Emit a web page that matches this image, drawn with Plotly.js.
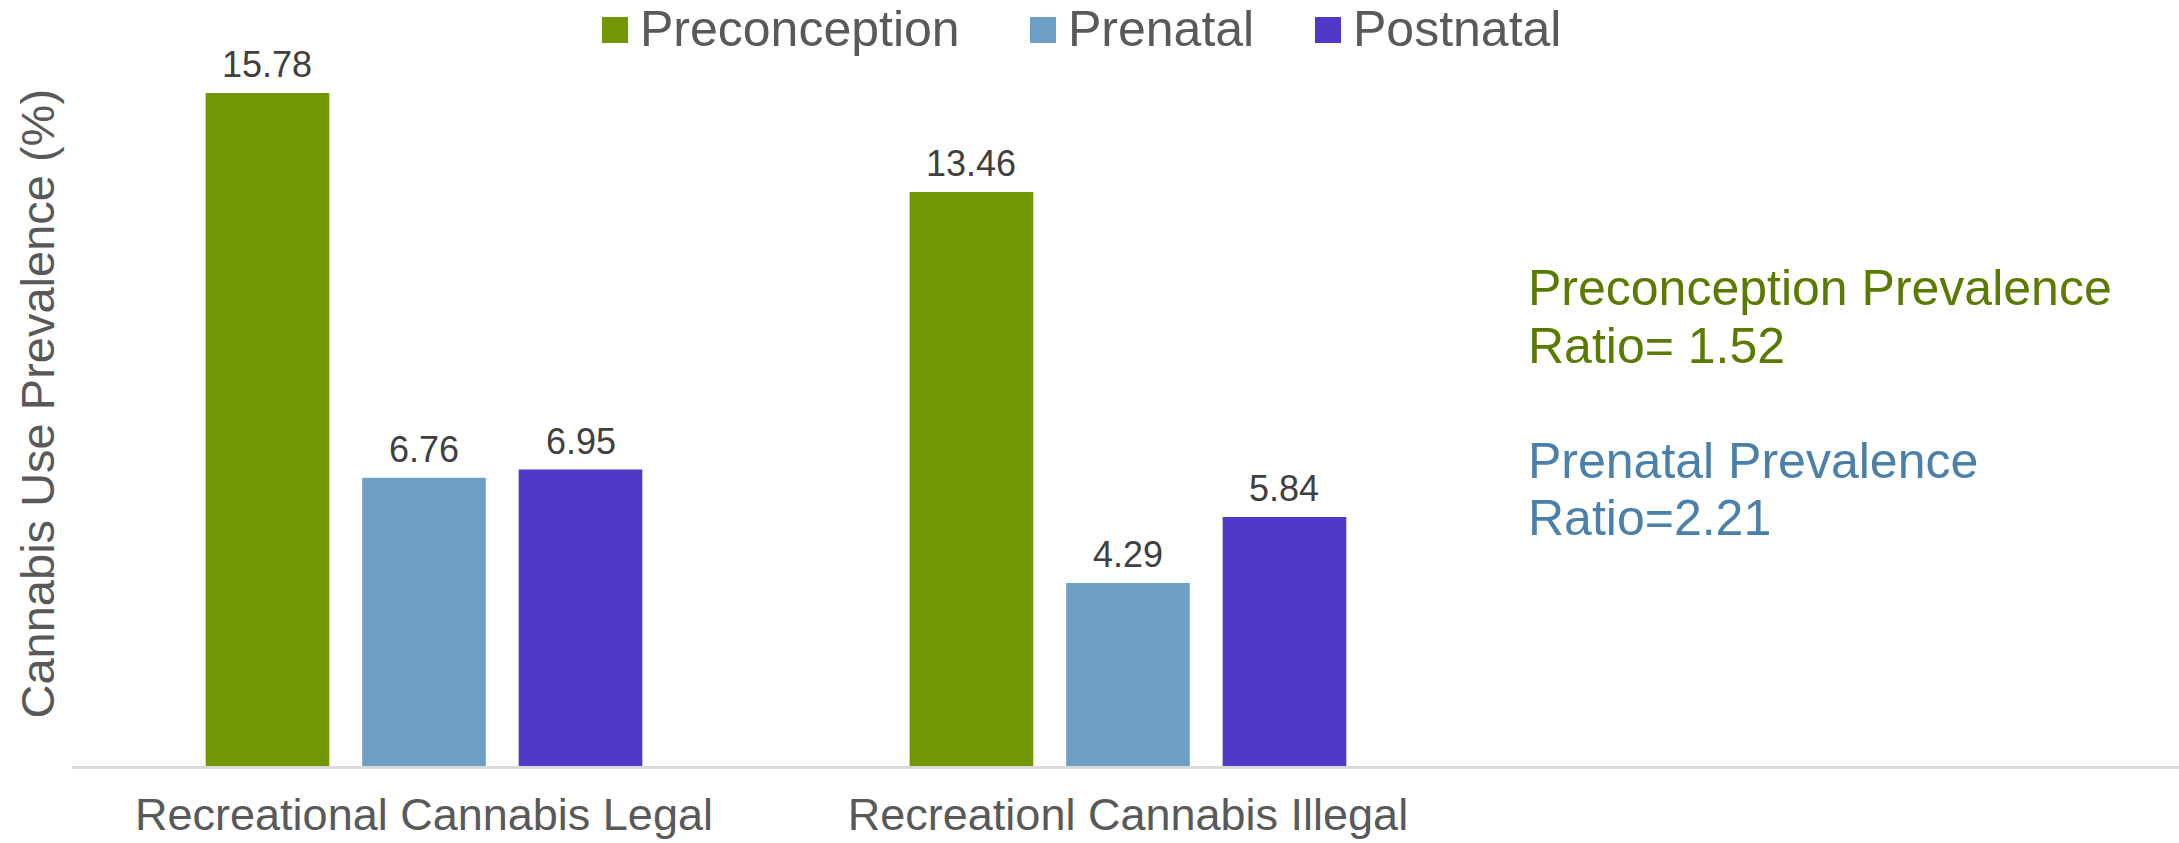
<!DOCTYPE html>
<html><head><meta charset="utf-8">
<script src="https://cdn.plot.ly/plotly-3.0.1.min.js"></script>
<style>html,body{margin:0;padding:0;background:#fff;overflow:hidden}#chart{width:2179px;height:843px}</style>
</head><body><div id="chart"></div>
<script>
// ---- data ----
const categories = ["Recreational Cannabis Legal", "Recreationl Cannabis Illegal"];
const seriesNames = ["Preconception", "Prenatal", "Postnatal"];
const preconception = [15.78, 13.46];
const prenatal = [6.76, 4.29];
const postnatal = [6.95, 5.84];
const seriesColors = ["#739703", "#6e9fc4", "#5039c8"];
const yTitle = "Cannabis Use Prevalence (%)";
const ratioLines = ["Preconception Prevalence", "Ratio= 1.52", "Prenatal Prevalence", "Ratio=2.21"];
const ratioColors = ["#5b7a00", "#5b7a00", "#4a80aa", "#4a80aa"];

// ---- layout geometry (pixels) ----
const W = 2179, H = 843;
const M = {l: 72, r: 0, t: 41, b: 77};
const PW = W - M.l - M.r, PH = H - M.t - M.b;
const px = x => (x - M.l) / PW;
const py = y => (H - M.b - y) / PH;

const FONT = "Liberation Sans, Arial, sans-serif";
const GREY = "#595959";
const BARGAP = 0.333, GROUPGAP = 0.21;

const values = [preconception, prenatal, postnatal];
const traces = seriesNames.map((n, i) => ({
  type: "bar", name: n, x: categories, y: values[i],
  marker: {color: seriesColors[i]},
  showlegend: false, hoverinfo: "x+y+name"
}));

const annotations = [];
const shapes = [];
// data labels, placed through the axes
const slot = (1 - BARGAP) / seriesNames.length;
values.forEach((vals, s) => {
  vals.forEach((v, c) => {
    annotations.push({xref: "x", yref: "y", x: c + (s - (seriesNames.length - 1) / 2) * slot, y: v,
      xanchor: "center", yanchor: "bottom", yshift: 6, showarrow: false, text: v.toFixed(2),
      font: {family: FONT, size: 36, color: "#404040"}});
  });
});
// custom legend (large square swatches)
const legSquareX = [602, 1030, 1315];
seriesNames.forEach((n, i) => {
  shapes.push({type: "rect", xref: "paper", yref: "paper",
    x0: px(legSquareX[i]), x1: px(legSquareX[i] + 26), y0: py(43), y1: py(17),
    fillcolor: seriesColors[i], line: {width: 0}});
  annotations.push({xref: "paper", yref: "paper", x: px(legSquareX[i] + 36), y: py(29),
    xanchor: "left", yanchor: "middle", showarrow: false, text: n,
    font: {family: FONT, size: 50, color: GREY}});
});
// ratio text
const ratioBaselines = [306, 364, 479, 536];
ratioLines.forEach((t, i) => {
  annotations.push({xref: "paper", yref: "paper", x: px(1526), y: py(ratioBaselines[i] - 18),
    xanchor: "left", yanchor: "middle", showarrow: false, text: t,
    font: {family: FONT, size: 50, color: ratioColors[i]}});
});
// y axis title
annotations.push({xref: "paper", yref: "paper", x: px(37), y: 0.5, textangle: -90,
  xanchor: "center", yanchor: "middle", showarrow: false, text: yTitle,
  font: {family: FONT, size: 47, color: GREY}});

const layout = {
  width: W, height: H, margin: M,
  paper_bgcolor: "#fff", plot_bgcolor: "#fff",
  barmode: "group", bargap: BARGAP, bargroupgap: GROUPGAP,
  showlegend: false,
  xaxis: {type: "category", range: [-0.5, 2.493], showline: true, linecolor: "#d9d9d9", linewidth: 3,
    showgrid: false, zeroline: false, ticks: "", ticklabelstandoff: 7,
    tickfont: {family: FONT, size: 45, color: GREY}},
  yaxis: {range: [0, 17], showgrid: false, zeroline: false, showline: false, showticklabels: false, ticks: ""},
  annotations, shapes
};
Plotly.newPlot("chart", traces, layout, {staticPlot: true, displayModeBar: false});
</script></body></html>
